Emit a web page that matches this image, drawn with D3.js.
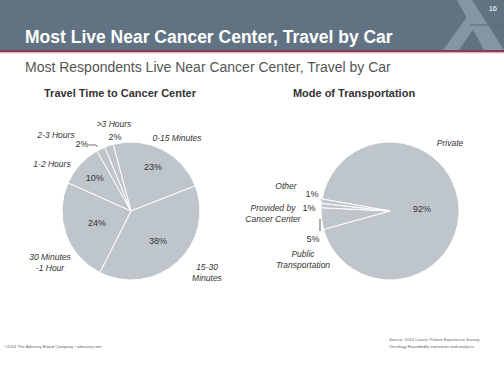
<!DOCTYPE html>
<html>
<head>
<meta charset="utf-8">
<script src="https://cdn.jsdelivr.net/npm/d3@7"></script>
<style>
  body { margin: 0; background: #fff; }
  svg { display: block; font-family: "Liberation Sans", Arial, sans-serif; }
</style>
</head>
<body>
<svg id="chart" width="504" height="378"></svg>
<script>
// travel time pie
var timeCats = ["0-15 Minutes", "15-30 Minutes", "30 Minutes -1 Hour", "1-2 Hours", "2-3 Hours", ">3 Hours"];
var timeVals = [23, 38, 24, 10, 2, 2];
// mode of transportation pie
var modeCats = ["Private", "Public Transportation", "Provided by Cancer Center", "Other"];
var modeVals = [92, 5, 1, 1];

var svg = d3.select("#chart");
var deg = Math.PI / 180;

// ---- header band
svg.append("rect").attr("x", 0).attr("y", 0).attr("width", 504).attr("height", 50).attr("fill", "#617383");
// logo legs
svg.append("path").attr("d", "M457,0 L472,0 L504,50 L484,50 Z").attr("fill", "#8496a3");
svg.append("path").attr("d", "M443,50 L459,50 L476,25 L467,17 Z").attr("fill", "#8496a3");
svg.append("line").attr("x1", 470).attr("x2", 504).attr("y1", 25).attr("y2", 25)
  .attr("stroke", "#5a6a78").attr("stroke-width", 1);
svg.append("rect").attr("x", 0).attr("y", 50).attr("width", 504).attr("height", 2.5).attr("fill", "#8a3b50");
svg.append("rect").attr("x", 0).attr("y", 52.5).attr("width", 504).attr("height", 1).attr("fill", "#e2d0d5");

svg.append("text").attr("x", 497).attr("y", 11).attr("text-anchor", "end")
  .attr("font-size", 7.5).attr("fill", "#fff").text("16");
svg.append("text").attr("x", 25).attr("y", 43)
  .attr("font-size", 17.5).attr("font-weight", "bold").attr("fill", "#fff")
  .text("Most Live Near Cancer Center, Travel by Car");
svg.append("text").attr("x", 25).attr("y", 72)
  .attr("font-size", 14).attr("fill", "#555")
  .text("Most Respondents Live Near Cancer Center, Travel by Car");

// ---- chart titles
svg.append("text").attr("x", 120).attr("y", 97).attr("text-anchor", "middle")
  .attr("font-size", 11).attr("font-weight", "bold").attr("fill", "#333")
  .text("Travel Time to Cancer Center");
svg.append("text").attr("x", 354).attr("y", 97).attr("text-anchor", "middle")
  .attr("font-size", 11).attr("font-weight", "bold").attr("fill", "#333")
  .text("Mode of Transportation");

var fill = "#bec6cc";
var r = 69;

var drawPie = function(vals, cx, cy, start) {
  var pie = d3.pie().sort(null).value(function(d) { return d; })
    .startAngle(start * deg).endAngle((start + 360) * deg);
  var arcs = pie(vals);
  var arc = d3.arc().innerRadius(0).outerRadius(r);
  var g = svg.append("g").attr("transform", "translate(" + cx + "," + cy + ")");
  g.selectAll("path").data(arcs).enter().append("path")
    .attr("d", arc).attr("fill", fill)
    .attr("stroke", "#fff").attr("stroke-width", 1);
  return { g: g, arcs: arcs };
};

var polar = function(a, rad) {
  var ang = (a.startAngle + a.endAngle) / 2;
  return [rad * Math.sin(ang), -rad * Math.cos(ang)];
};

var pctText = function(g, x, y, v) {
  g.append("text").attr("x", x).attr("y", y).attr("text-anchor", "middle")
    .attr("font-size", 9).attr("fill", "#333").text(v + "%");
};
var catText = function(x, y, lines, anchor) {
  var t = svg.append("text").attr("text-anchor", anchor || "middle")
    .attr("font-size", 8.5).attr("font-style", "italic").attr("fill", "#333");
  lines.forEach(function(l, i) {
    t.append("tspan").attr("x", x).attr("y", y + i * 11).text(l);
  });
};

// ---- left pie
var left = drawPie(timeVals, 131, 211, -15);
var lRad = [49, 40, 36, 49];
left.arcs.forEach(function(a, i) {
  if (i < 4) {
    var p = polar(a, lRad[i]);
    pctText(left.g, p[0], p[1] + 3, timeVals[i]);
  }
});
// small slices, outside labels
pctText(left.g, -16, -71, timeVals[5]);
pctText(left.g, -49, -64, timeVals[4]);
left.g.append("path").attr("d", "M-42,-66 L-35,-66 L-33,-64").attr("fill", "none")
  .attr("stroke", "#333").attr("stroke-width", 0.7);

catText(114, 127, [">3 Hours"]);
catText(177, 141, ["0-15 Minutes"]);
catText(56, 138, ["2-3 Hours"]);
catText(52, 167, ["1-2 Hours"]);
catText(50, 260, ["30 Minutes", "-1 Hour"]);
catText(207, 270, ["15-30", "Minutes"]);

// ---- right pie
var right = drawPie(modeVals, 390, 211, -80);
var p0 = polar(right.arcs[0], 32);
pctText(right.g, p0[0], p0[1] + 3, modeVals[0]);
pctText(right.g, -77, 31, modeVals[1]);
pctText(right.g, -81, 0, modeVals[2]);
pctText(right.g, -78, -14, modeVals[3]);
right.g.append("line").attr("x1", -70).attr("x2", -70).attr("y1", 8).attr("y2", 20)
  .attr("stroke", "#333").attr("stroke-width", 0.8);
right.g.append("line").attr("x1", -69).attr("x2", -68).attr("y1", -11).attr("y2", -11)
  .attr("stroke", "#333").attr("stroke-width", 0.8);

catText(450, 146, ["Private"]);
catText(286, 189, ["Other"]);
catText(273, 211, ["Provided by"]);
catText(273, 222, ["Cancer Center"]);
catText(303, 257, ["Public", "Transportation"]);

// ---- footers
svg.append("text").attr("x", 4).attr("y", 348).attr("font-size", 4.2).attr("fill", "#666")
  .text("©2014 The Advisory Board Company • advisory.com");
var ft = svg.append("text").attr("font-size", 4.2).attr("fill", "#666");
ft.append("tspan").attr("x", 389).attr("y", 341).text("Source: 2014 Cancer Patient Experience Survey;");
ft.append("tspan").attr("x", 389).attr("y", 348).text("Oncology Roundtable interviews and analysis.");
</script>
</body>
</html>
